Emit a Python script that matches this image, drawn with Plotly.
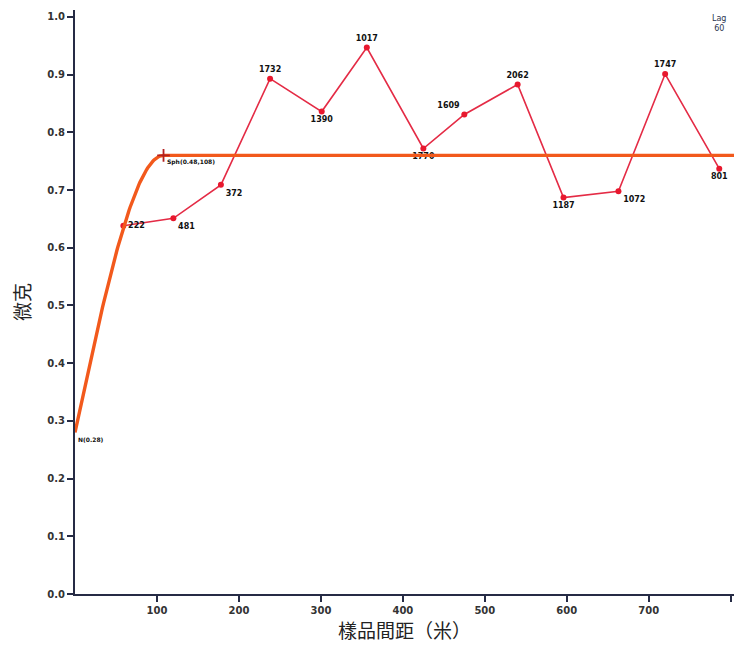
import numpy as np
import plotly.graph_objects as go

# Experimental semivariogram: mean lag distance, semivariance, number of pairs
lag_dist = [59, 120, 178, 238, 301, 356, 425, 475, 540, 596, 663, 720, 786]
semivar = [0.638, 0.651, 0.709, 0.893, 0.836, 0.947, 0.772, 0.831, 0.883, 0.687, 0.698, 0.901, 0.737]
pair_counts = ["222", "481", "372", "1732", "1390", "1017", "1770", "1609", "2062", "1187", "1072", "1747", "801"]
label_pos = ["middle right", "bottom right", "bottom right", "top center", "bottom center",
             "top center", "bottom center", "top left", "top center", "bottom center",
             "bottom right", "top center", "bottom center"]

# Fitted spherical model
nugget = 0.28
partial_sill = 0.48
model_range = 108
lag_size = 60
x_max = 804

x_ticks = [100, 200, 300, 400, 500, 600, 700, 800]
y_ticks = [0.0, 0.1, 0.2, 0.3, 0.4, 0.5, 0.6, 0.7, 0.8, 0.9, 1.0]

h = np.linspace(0, x_max, 600)
r = np.clip(h / model_range, 0, 1)
gamma = nugget + partial_sill * (1.5 * r - 0.5 * r ** 3)

fig = go.Figure()

fig.add_trace(go.Scatter(
    x=lag_dist, y=semivar, mode="lines+markers+text",
    line=dict(color="#e42b45", width=1.6),
    marker=dict(color="#e8182e", size=6),
    text=pair_counts, textposition=label_pos,
    textfont=dict(family="DejaVu Sans", size=8, color="#111111", weight="bold"),
    cliponaxis=False, showlegend=False, hoverinfo="skip",
))

fig.add_trace(go.Scatter(
    x=h, y=gamma, mode="lines",
    line=dict(color="#f2591c", width=3.4),
    showlegend=False, hoverinfo="skip",
))

fig.add_trace(go.Scatter(
    x=[model_range], y=[nugget + partial_sill], mode="markers",
    marker=dict(symbol="cross-thin", size=9, line=dict(color="#b3201f", width=1.8)),
    showlegend=False, hoverinfo="skip",
))

ann_font = dict(family="DejaVu Sans", size=6, color="#111111", weight="bold")
fig.add_annotation(x=model_range, y=nugget + partial_sill, text=f"Sph({partial_sill},{model_range})",
                   showarrow=False, xanchor="left", yanchor="top", xshift=1, yshift=-1, font=ann_font)
fig.add_annotation(x=0, y=nugget, text=f"N({nugget})", showarrow=False,
                   xanchor="left", yanchor="top", xshift=1, yshift=-2, font=ann_font)
fig.add_annotation(x=1, y=1, xref="paper", yref="paper", text=f"Lag<br>{lag_size}",
                   showarrow=False, xanchor="right", yanchor="top", align="center",
                   xshift=-6, yshift=-2,
                   font=dict(family="DejaVu Sans", size=8, color="#2b3550"))

axis_common = dict(
    showline=True, linecolor="#262b45", linewidth=2,
    ticks="outside", ticklen=6, tickwidth=1.5, tickcolor="#262b45",
    showgrid=False, zeroline=False,
    tickfont=dict(family="DejaVu Sans", size=10, color="#333333", weight="bold"),
)

fig.update_xaxes(range=[0, x_max], tickvals=x_ticks, ticktext=[str(v) for v in x_ticks],
                 title=dict(text="樣品間距（米）", standoff=8,
                            font=dict(family="Noto Sans CJK TC", size=19, color="#222222")),
                 **axis_common)
fig.update_yaxes(range=[0, 1.012], tickvals=y_ticks, ticktext=[f"{v:.1f}" for v in y_ticks],
                 title=dict(text="微克", standoff=12,
                            font=dict(family="Noto Sans CJK TC", size=19, color="#222222")),
                 **axis_common)

fig.update_layout(
    width=738, height=650,
    margin=dict(l=75, r=4, t=10, b=56),
    paper_bgcolor="white", plot_bgcolor="white",
)

fig.write_html("out.html")
